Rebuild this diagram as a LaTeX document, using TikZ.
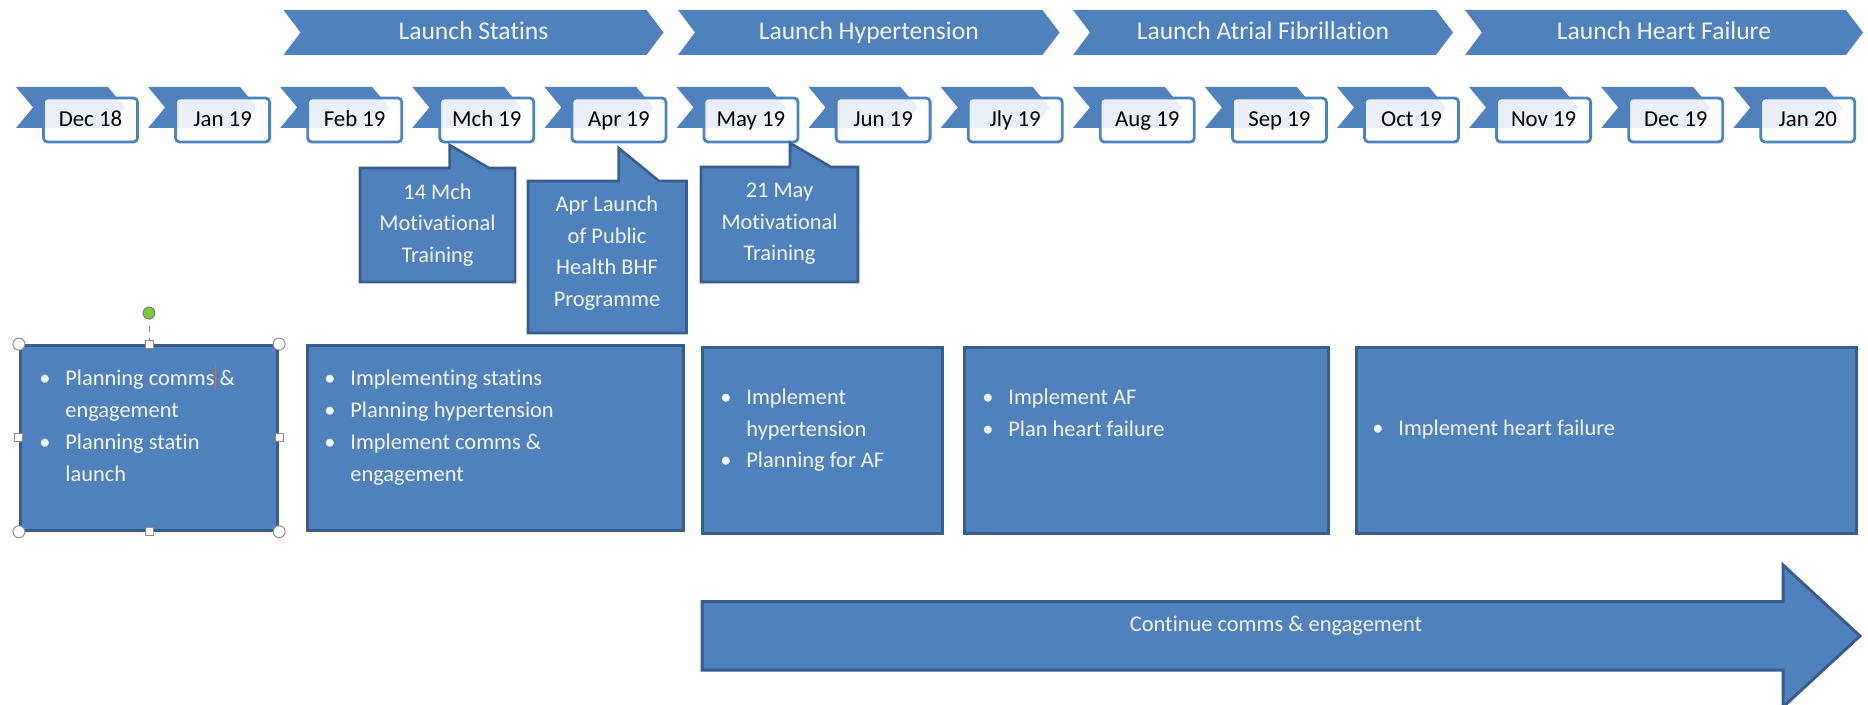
\documentclass[tikz,border=0pt]{standalone}
\usepackage{fontspec}
\setmainfont{Carlito}[Ligatures=NoCommon]
\usetikzlibrary{positioning}

\definecolor{ribbon}{HTML}{4F81BD}
\definecolor{ribbonedge}{HTML}{385D8A}
\definecolor{paletext}{HTML}{F2F5FA}
\definecolor{handlegray}{HTML}{8C8C8C}
\definecolor{handlegreen}{HTML}{7AC943}
\definecolor{cursororange}{HTML}{E46C0A}

\newcommand{\bl}{\textbullet}
\newcommand{\planlist}[1]{\begin{tabular}[t]{@{}p{13pt}@{}l@{}}#1\end{tabular}}
\newcommand{\caret}{\rlap{\textcolor{cursororange}{\rule[-0.2em]{0.6pt}{1.15em}}}}

\begin{document}
\begin{tikzpicture}[x=0.5pt, y=-0.5pt,
  phase/.style={fill=ribbon},
  phasetext/.style={text=paletext, inner sep=0pt, text height=9pt, text depth=1pt,
    font=\fontsize{12.8}{15}\selectfont},
  monthbox/.style={draw=ribbon, line width=1.4pt, fill=white, fill opacity=0.88, text opacity=1,
    rounded corners=2pt, minimum width=47pt, minimum height=22pt, inner sep=0pt,
    text height=8pt, text depth=1pt, font=\fontsize{11.4}{13}\selectfont},
  callout/.style={fill=ribbon, draw=ribbonedge, line width=1.3pt, line join=miter},
  callouttext/.style={text=paletext, align=center, inner sep=0pt, font=\fontsize{11.2}{15.8}\selectfont},
  planbox/.style={fill=ribbon, draw=ribbonedge, line width=1.5pt, inner sep=0pt},
  plantext/.style={text=paletext, anchor=base west, inner sep=0pt, font=\fontsize{11.2}{16}\selectfont},
  cornerhandle/.style={circle, draw=handlegray, fill=white, line width=0.5pt, minimum size=6pt, inner sep=0pt},
  sidehandle/.style={rectangle, draw=handlegray, fill=white, line width=0.5pt, minimum size=4pt, inner sep=0pt},
  rothandle/.style={circle, draw=handlegray!80!black, fill=handlegreen, line width=0.4pt, minimum size=6pt, inner sep=0pt}]

  \useasboundingbox (0,0) rectangle (1868,705);

  % launch phases
  \foreach \xa/\xb/\lab [count=\k] in {283.5/663.5/Launch Statins, 678/1059.5/Launch Hypertension,
      1073/1453/Launch Atrial Fibrillation, 1465/1863/Launch Heart Failure} {
    \fill[phase] (\xa,10) -- (\xb-17,10) -- (\xb,32.5) -- (\xb-17,55) -- (\xa,55) -- (\xa+17,32.5) -- cycle;
    \node[phasetext] (ph\k) at ({(\xa+\xb)/2},31.7) {\lab};
  }

  % months
  \foreach \lab [count=\i from 0] in {Dec 18, Jan 19, Feb 19, Mch 19, Apr 19, May 19, Jun 19,
      Jly 19, Aug 19, Sep 19, Oct 19, Nov 19, Dec 19, Jan 20} {
    \pgfmathsetmacro{\L}{42+132.1*\i}
    \fill[phase] (\L-26,87) -- (\L+66,87) -- (\L+83,107.5) -- (\L+66,128) -- (\L-26,128) -- (\L-9,107.5) -- cycle;
    \node[monthbox] (m\i) at (\L+48.5,120) {\lab};
  }

  % callouts
  \draw[callout] (360,168) -- (449.6,168) -- (449.6,145) -- (489,168) -- (515,168)
    -- (515,282) -- (360,282) -- cycle;
  \node[callouttext] (c1) at (437.5,225) {14 Mch\\Motivational\\Training};

  \draw[callout] (528,181) -- (618.6,181) -- (618.6,148) -- (659,181) -- (686.5,181)
    -- (686.5,333) -- (528,333) -- cycle;
  \node[callouttext] (c2) at (607,253) {Apr Launch\\of Public\\Health BHF\\Programme};

  \draw[callout] (701,167) -- (790,167) -- (790,143) -- (831,167) -- (858,167)
    -- (858,282) -- (701,282) -- cycle;
  \node[callouttext] (c3) at (779.5,224) {21 May\\Motivational\\Training};

  % work boxes
  \node[planbox, minimum width=128.6pt, minimum height=92.3pt] (p1) at (149,437.9) {};
  \node[planbox, minimum width=188pt, minimum height=92.3pt] (p2) at (495.4,437.9) {};
  \node[planbox, minimum width=119.8pt, minimum height=93pt] (p3) at (822.3,440.5) {};
  \node[planbox, minimum width=182.2pt, minimum height=93pt] (p4) at (1146.3,440.5) {};
  \node[planbox, minimum width=250pt, minimum height=93pt] (p5) at (1606.5,440.5) {};

  \node[plantext] (t1) at (39,386) {\planlist{\bl & Planning comms\caret{} \&\\ & engagement\\
    \bl & Planning statin\\ & launch}};
  \node[plantext] (t2) at (324,386) {\planlist{\bl & Implementing statins\\ \bl & Planning hypertension\\
    \bl & Implement comms \&\\ & engagement}};
  \node[plantext, font=\fontsize{11.2}{15.75}\selectfont] (t3) at (720,405) {\planlist{\bl & Implement\\
    & hypertension\\ \bl & Planning for AF}};
  \node[plantext, font=\fontsize{11.2}{15.75}\selectfont] (t4) at (982,405) {\planlist{\bl & Implement AF\\
    \bl & Plan heart failure}};
  \node[plantext] (t5) at (1372,436) {\planlist{\bl & Implement heart failure}};

  % selection handles
  \node[rothandle] (rot) at (149,313) {};
  \draw[handlegray, dashed, line width=0.5pt] (p1.north) -- (rot);
  \foreach \c in {north west, north east, south west, south east}
    \node[cornerhandle] (hc-\c) at (p1.\c) {};
  \foreach \c in {north, south, west, east}
    \node[sidehandle] (hs-\c) at (p1.\c) {};

  % comms arrow
  \draw[planbox] (702,601.7) -- (1783,601.7) -- (1783,565) -- (1860,636) -- (1783,707)
    -- (1783,670) -- (702,670) -- cycle;
  \node[text=paletext, inner sep=0pt, font=\fontsize{11.2}{13}\selectfont] (cont) at (1276,626)
    {Continue comms \& engagement};
\end{tikzpicture}
\end{document}
